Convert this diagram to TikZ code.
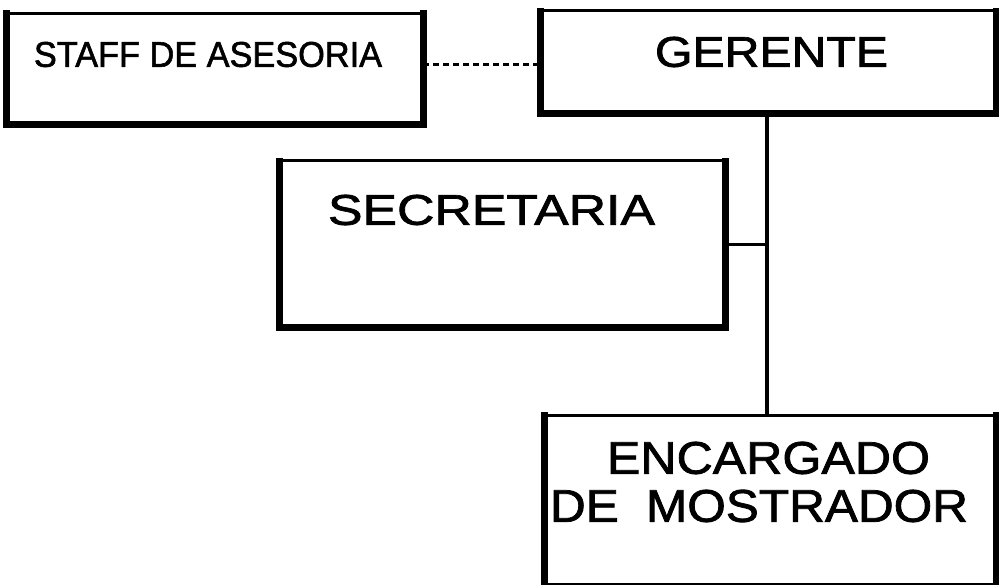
\documentclass[tikz,border=0pt]{standalone}
\usepackage{fontspec}
\setmainfont{Liberation Sans}
\newfontfamily\lblfont[FakeBold=1.6]{Liberation Sans}
\begin{document}
\begin{tikzpicture}[x=1pt,y=-1pt,
  box/.style={draw, line width=3pt, inner sep=0pt, anchor=north west},
  heavy/.style={line width=7pt, line cap=butt, line join=miter},
  lbl/.style={inner sep=0pt, anchor=center, font=\lblfont},
  link/.style={line width=3.5pt},
  dotlink/.style={line width=3pt, dash pattern=on 6pt off 4pt}]
\useasboundingbox (0,0) rectangle (999,584);
\fill[white] (0,0) rectangle (999,584);

% boxes
\node[box, minimum width=413.5pt, minimum height=109.5pt] (staff) at (6.5,11.5) {};
\node[box, minimum width=453pt, minimum height=101pt] (gerente) at (540,9) {};
\node[box, minimum width=443pt, minimum height=165pt] (secretaria) at (279,159) {};
\node[box, minimum width=449pt, minimum height=170pt] (encargado) at (544,413.5) {};

% heavy left/bottom/right edges
\foreach \b in {staff,gerente,secretaria,encargado}{
  \draw[heavy] ([yshift=1.5pt]\b.north west) -- (\b.south west) -- (\b.south east) -- ([yshift=1.5pt]\b.north east);
}

% labels
\node[lbl] (tstaff) at (208,54.5) {\resizebox{348pt}{25pt}{STAFF DE ASESORIA}};
\node[lbl] (tgerente) at (771.5,52) {\resizebox{233pt}{30pt}{GERENTE}};
\node[lbl] (tsecretaria) at (491.5,210) {\resizebox{327pt}{30pt}{SECRETARIA}};
\node[lbl] (tencargado) at (768.5,458) {\resizebox{323pt}{32pt}{ENCARGADO}};
\node[lbl] (tmostrador) at (759,506) {\resizebox{418pt}{32pt}{DE\hspace{0.55em}MOSTRADOR}};

% connectors
\draw[dotlink] ([yshift=3.5pt]staff.east) -- ([yshift=3.5pt]staff.east -| gerente.west);
\coordinate (trunk) at ([xshift=-1pt]gerente.south);
\draw[link] (trunk) -- (trunk |- encargado.north);
\draw[link] ([yshift=-1.5pt]secretaria.east) -- ([yshift=-1.5pt]secretaria.east -| trunk);
\end{tikzpicture}
\end{document}
